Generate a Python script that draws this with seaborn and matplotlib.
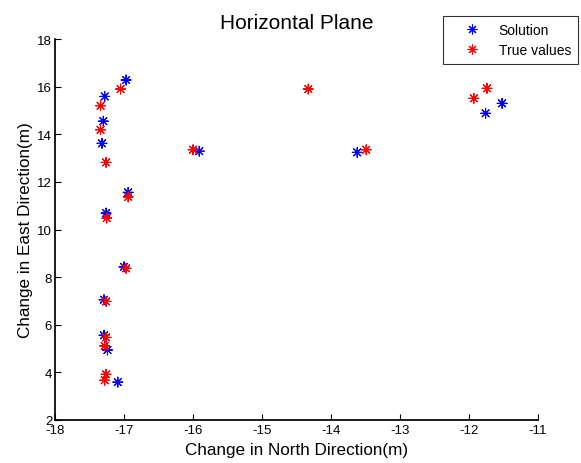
import pandas as pd
import matplotlib
matplotlib.use('Agg')
import matplotlib.pyplot as plt
import seaborn as sns

# data (north = x, east = y)
sol_north = [-16.97, -17.28, -17.30, -17.32, -16.94, -17.26, -17.00, -17.29, -17.29, -17.24,
             -17.09, -15.91, -13.62, -11.52, -11.76]
sol_east = [16.28, 15.59, 14.55, 13.62, 11.56, 10.69, 8.43, 7.05, 5.56, 4.94,
            3.59, 13.29, 13.24, 15.30, 14.88]
true_north = [-17.05, -17.34, -17.34, -17.26, -16.94, -17.25, -16.97, -17.26, -17.26, -17.28,
              -17.26, -17.28, -16.00, -14.33, -13.49, -11.74, -11.93]
true_east = [15.90, 15.20, 14.19, 12.82, 11.37, 10.48, 8.37, 6.98, 5.47, 5.11,
             3.92, 3.67, 13.35, 15.90, 13.35, 15.93, 15.51]

df = pd.concat([
    pd.DataFrame({'north': sol_north, 'east': sol_east, 'series': 'Solution'}),
    pd.DataFrame({'north': true_north, 'east': true_east, 'series': 'True values'}),
], ignore_index=True)

sns.set_theme(style='ticks')
plt.rcParams['font.family'] = ['Liberation Sans', 'DejaVu Sans']
plt.rcParams['axes.unicode_minus'] = False
plt.rcParams['xtick.direction'] = 'in'
plt.rcParams['ytick.direction'] = 'in'
plt.rcParams['text.color'] = 'black'
plt.rcParams['axes.labelcolor'] = 'black'
plt.rcParams['xtick.color'] = 'black'
plt.rcParams['ytick.color'] = 'black'
plt.rcParams['axes.edgecolor'] = 'black'

fig = plt.figure(figsize=(5.81, 4.64), dpi=100)
ax = fig.add_axes([0.0947, 0.0927, 0.8313, 0.821])

sns.scatterplot(data=df, x='north', y='east', hue='series',
                palette={'Solution': 'blue', 'True values': 'red'},
                marker=(8, 2, 0), s=50, linewidth=0.8, ax=ax)

ax.set_xlim(-18, -11)
ax.set_ylim(2, 18)
ax.set_xticks(range(-18, -10))
ax.set_yticks(range(2, 19, 2))
ax.tick_params(labelsize=9.5, length=4, width=0.8)
ax.tick_params(axis='x', pad=3)
ax.tick_params(axis='y', pad=2)
ax.set_xlabel('Change in North Direction(m)', fontsize=12.3, labelpad=4)
ax.set_ylabel('Change in East Direction(m)', fontsize=12.3, labelpad=3)
ax.set_title('Horizontal Plane', fontsize=15, pad=8)
sns.despine(ax=ax)

leg = ax.legend(loc='upper right', bbox_to_anchor=(578 / 581, 1 - 17 / 464),
                bbox_transform=fig.transFigure, frameon=True, fancybox=False,
                edgecolor='black', fontsize=10, borderaxespad=0, borderpad=0.5,
                handlelength=3.2, handletextpad=0.3, labelspacing=0.44)
leg.get_frame().set_linewidth(0.8)

plt.savefig('out.png', dpi=100)
